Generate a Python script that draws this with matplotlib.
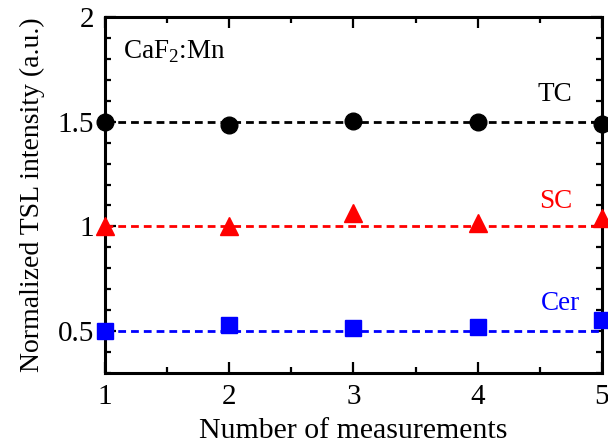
import matplotlib
matplotlib.use("Agg")
import matplotlib.pyplot as plt
from matplotlib.ticker import MultipleLocator

plt.rcParams["font.family"] = ["Liberation Serif", "DejaVu Serif"]
plt.rcParams["mathtext.fontset"] = "custom"
plt.rcParams["mathtext.rm"] = "Liberation Serif"

# Measurement index and normalized TSL intensity per dosimeter type
measurements = [1, 2, 3, 4, 5]
tc_values = [1.497, 1.485, 1.505, 1.500, 1.490]
sc_values = [1.000, 1.000, 1.065, 1.015, 1.040]
cer_values = [0.500, 0.528, 0.515, 0.518, 0.555]

# Reference levels (dashed guide lines)
tc_ref = 1.5
sc_ref = 1.0
cer_ref = 0.5

series_names = ["TC", "SC", "Cer"]
colors = ["black", "red", "blue"]

fig = plt.figure(figsize=(6.08, 4.45), dpi=100)
ax = fig.add_axes([0.1727, 0.1618, 0.8173, 0.8])

ax.set_xlim(1, 5)
ax.set_ylim(0.3, 2.0)

dash = dict(linestyle=(0, (2.8, 1.8)), linewidth=2.0, zorder=2)
ax.plot([measurements[0], measurements[-1]], [tc_ref, tc_ref], color=colors[0], **dash)
ax.plot([measurements[0], measurements[-1]], [sc_ref, sc_ref], color=colors[1], **dash)
ax.plot([measurements[0], measurements[-1]], [cer_ref, cer_ref], color=colors[2], **dash)

mk = dict(linestyle="none", clip_on=False, zorder=3)
ax.plot(measurements, tc_values, marker="o", markersize=12, color=colors[0], **mk)
ax.plot(measurements, sc_values, marker="^", markersize=12.5, color=colors[1], **mk)
ax.plot(measurements, cer_values, marker="s", markersize=11.5, color=colors[2], **mk)

ax.text(4.76, 1.632, series_names[0], color=colors[0], fontsize=19.5, ha="right", va="center")
ax.text(4.76, 1.117, series_names[1], color=colors[1], fontsize=19.5, ha="right", va="center")
ax.text(4.82, 0.634, series_names[2], color=colors[2], fontsize=19.5, ha="right", va="center")
ax.text(1.145, 1.833, r"CaF$_2$:Mn", color="black", fontsize=19.5, ha="left", va="center")

ax.xaxis.set_major_locator(MultipleLocator(1))
ax.xaxis.set_minor_locator(MultipleLocator(0.5))
ax.yaxis.set_minor_locator(MultipleLocator(0.1))
ax.set_yticks([0.5, 1.0, 1.5, 2.0])
ax.set_yticklabels(["0.5", "1", "1.5", "2"])
ax.set_xticks(measurements)
ax.set_xticklabels([str(m) for m in measurements])

ax.tick_params(which="both", direction="in", top=True, right=True, width=1.6, labelsize=21)
ax.tick_params(which="major", length=8, pad=8)
ax.tick_params(which="minor", length=4.5)
for s in ax.spines.values():
    s.set_linewidth(2.2)

ax.set_xlabel("Number of measurements", fontsize=21.5, labelpad=6)
ax.set_ylabel("Normalized TSL intensity (a.u.)", fontsize=20, labelpad=9)

fig.savefig("out.png", dpi=100)
